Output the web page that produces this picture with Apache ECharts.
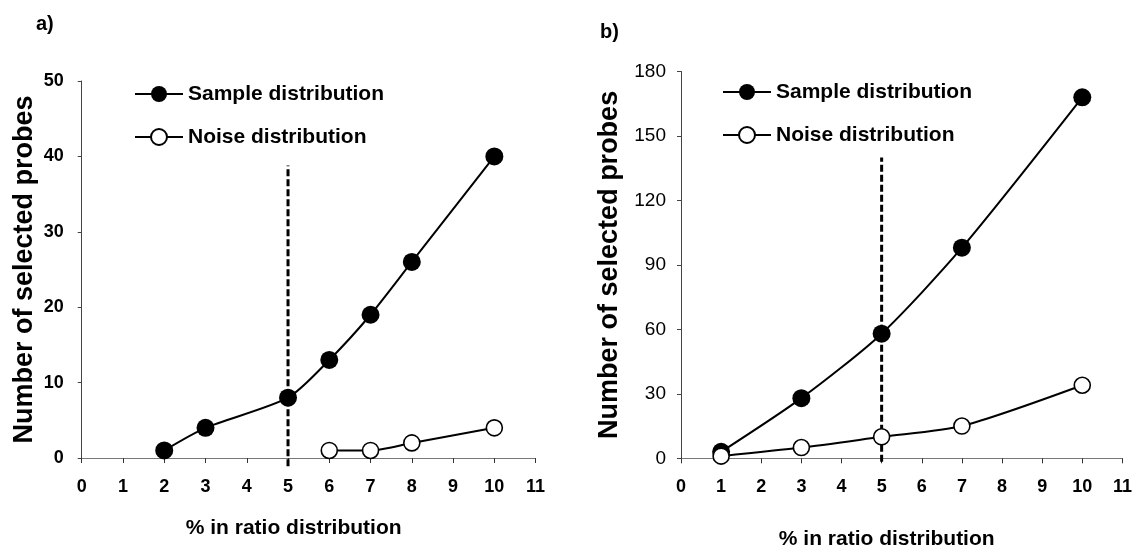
<!DOCTYPE html>
<html>
<head>
<meta charset="utf-8">
<script src="https://cdn.jsdelivr.net/npm/echarts@6/dist/echarts.min.js"></script>
<style>
  html, body { margin: 0; padding: 0; background: #fff; }
  #chart { width: 1141px; height: 556px; }
</style>
</head>
<body>
<div id="chart"></div>
<script>
// Panel a) — probes selected at each % cut-off of the ratio distribution
const ratioA_sample = [2, 3, 5, 6, 7, 8, 10];
const probesA_sample = [1, 4, 8, 13, 19, 26, 40];
const ratioA_noise = [6, 7, 8, 10];
const probesA_noise = [1, 1, 2, 4];

// Panel b)
const ratioB = [1, 3, 5, 7, 10];
const probesB_sample = [3, 28, 58, 98, 168];
const probesB_noise = [1, 5, 10, 15, 34];

// Cut-off marker at 5 %
const cutoff = 5;
const cutoffA = [-1.1, 38.8];
const cutoffB = [-1.6, 140];

// Axis ranges
const xRange = [0, 11, 1];
const yRangeA = [0, 50, 10];
const yRangeB = [0, 180, 30];

const seriesNames = ['Sample distribution', 'Noise distribution'];
const panelLabels = ['a)', 'b)'];
const xName = '% in ratio distribution';
const yName = 'Number of selected probes';

const FONT = '"Liberation Sans", Arial, sans-serif';
const zip = (xs, ys) => xs.map((x, i) => [x, ys[i]]);

function xAxisCfg(idx, gap) {
  return {
    type: 'value', gridIndex: idx,
    min: xRange[0], max: xRange[1], interval: xRange[2],
    name: xName, nameLocation: 'middle', nameGap: gap,
    nameTextStyle: { fontFamily: FONT, fontSize: 21, fontWeight: 'bold', color: '#000', padding: [0, 30, 0, 0] },
    axisLine: { show: true, onZero: false, lineStyle: { color: '#777', width: 1 } },
    axisTick: { show: true, inside: false, length: 5, lineStyle: { color: '#333' } },
    axisLabel: { margin: 20, fontFamily: FONT, fontSize: 18, fontWeight: 'bold', color: '#000' },
    splitLine: { show: false }
  };
}

function yAxisCfg(idx, range, gap, weight, size, margin) {
  return {
    type: 'value', gridIndex: idx,
    min: range[0], max: range[1], interval: range[2],
    name: yName, nameLocation: 'middle', nameGap: gap, nameRotate: 90,
    nameTextStyle: { fontFamily: FONT, fontSize: 27, fontWeight: 'bold', color: '#000' },
    axisLine: { show: true, lineStyle: { color: '#444', width: 1 } },
    axisTick: { show: true, inside: false, length: 4, lineStyle: { color: '#444' } },
    axisLabel: { margin: margin, fontFamily: FONT, fontSize: size, fontWeight: weight, color: '#000' },
    splitLine: { show: false }
  };
}

function sampleSeries(idx, data) {
  return {
    name: seriesNames[0], type: 'line', xAxisIndex: idx, yAxisIndex: idx,
    data: data, smooth: 0.25, z: 4,
    symbol: 'circle', symbolSize: 18,
    lineStyle: { color: '#000', width: 2 },
    itemStyle: { color: '#000', borderColor: '#000', borderWidth: 0 }
  };
}

function noiseSeries(idx, data) {
  return {
    name: seriesNames[1], type: 'line', xAxisIndex: idx, yAxisIndex: idx,
    data: data, smooth: 0.25, z: 5,
    symbol: 'circle', symbolSize: 16,
    lineStyle: { color: '#000', width: 2 },
    itemStyle: { color: '#fff', borderColor: '#000', borderWidth: 1.6 }
  };
}

function cutoffSeries(idx, ends) {
  return {
    type: 'line', xAxisIndex: idx, yAxisIndex: idx,
    data: ends.map(v => [cutoff, v]), clip: false, z: 3,
    symbol: 'none', silent: true,
    lineStyle: { color: '#000', width: 3, type: [7, 3] }
  };
}

function legendCfg(left, top) {
  return {
    orient: 'vertical', left: left, top: top,
    data: seriesNames,
    itemWidth: 48, itemHeight: 20, itemGap: 21,
    selectedMode: false,
    textStyle: { fontFamily: FONT, fontSize: 21, fontWeight: 'bold', color: '#000', lineHeight: 22 }
  };
}

const chart = echarts.init(document.getElementById('chart'), null, { renderer: 'canvas' });
chart.setOption({
  animation: false,
  backgroundColor: '#fff',
  title: [
    { text: panelLabels[0], left: 31, top: 9, textStyle: { fontFamily: FONT, fontSize: 20, fontWeight: 'bold', color: '#000' } },
    { text: panelLabels[1], left: 595, top: 17, textStyle: { fontFamily: FONT, fontSize: 20, fontWeight: 'bold', color: '#000' } }
  ],
  legend: [legendCfg(129, 78), legendCfg(717, 76)],
  grid: [
    { left: 81.7, top: 81, width: 453.9, height: 377 },
    { left: 681, top: 71.5, width: 441.4, height: 386.8 }
  ],
  xAxis: [xAxisCfg(0, 60), xAxisCfg(1, 70)],
  yAxis: [yAxisCfg(0, yRangeA, 44, 'bold', 18, 18), yAxisCfg(1, yRangeB, 58, 'normal', 19, 15)],
  series: [
    cutoffSeries(0, cutoffA),
    sampleSeries(0, zip(ratioA_sample, probesA_sample)),
    noiseSeries(0, zip(ratioA_noise, probesA_noise)),
    cutoffSeries(1, cutoffB),
    sampleSeries(1, zip(ratioB, probesB_sample)),
    noiseSeries(1, zip(ratioB, probesB_noise))
  ]
});
</script>
</body>
</html>
